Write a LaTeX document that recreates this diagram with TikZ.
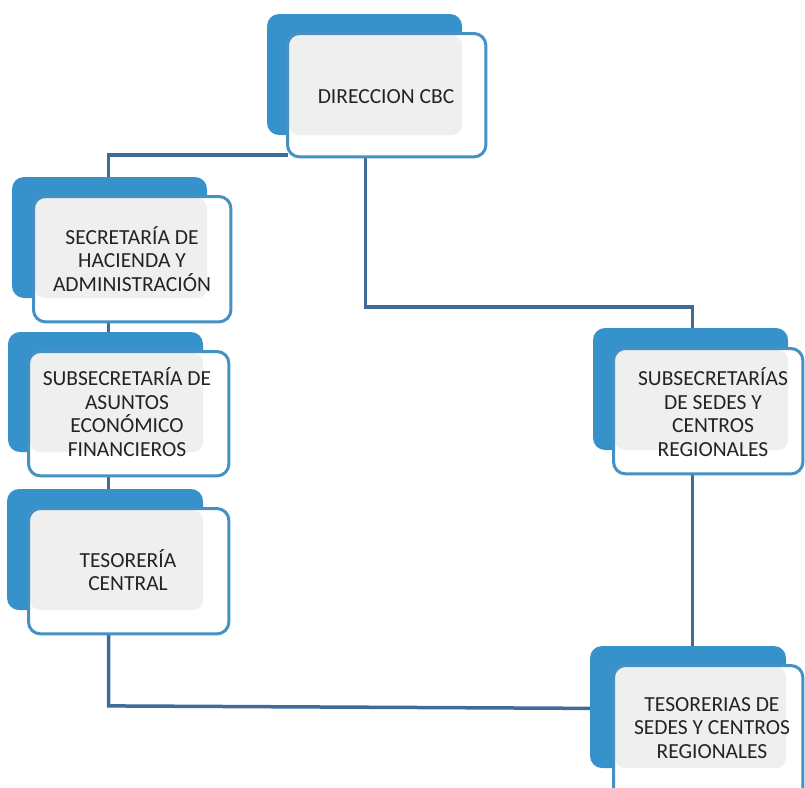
\documentclass[tikz,border=0pt]{standalone}
\usepackage{fontspec}
\setmainfont{Carlito}
\usetikzlibrary{backgrounds}
\definecolor{boxblue}{RGB}{55,145,203}
\definecolor{edgeblue}{RGB}{70,145,195}
\definecolor{linkblue}{RGB}{62,108,150}
\definecolor{panelgray}{RGB}{239,239,239}
\definecolor{inktext}{RGB}{35,35,35}
\newcommand\orgunit[9]{%
  \fill[backbox] (#2,#3) rectangle (#4,#5);
  \node[frontbox, minimum width={#8-#6-3}, minimum height={#9-#7-3}] (#1) at ({#6+1.5},{#7+1.5}) {};
  \fill[panel] ({#6+3},{#7+3}) rectangle (#4,#5);
  \draw[frontedge] (#1.south west) rectangle (#1.north east);
}
\begin{document}
\begin{tikzpicture}[x=1pt,y=-1pt,
  backbox/.style={fill=boxblue, rounded corners=12pt},
  frontbox/.style={fill=white, rounded corners=12pt, inner sep=0pt, anchor=north west, rectangle},
  frontedge/.style={draw=edgeblue, line width=3pt, rounded corners=12pt},
  panel/.style={fill=panelgray, rounded corners=10pt},
  label/.style={text=inktext, font=\fontsize{21.5}{23.5}\selectfont, align=center, inner sep=0pt},
  conn/.style={draw=linkblue, line width=3.5pt}]
\clip (0,0) rectangle (805,787);

\orgunit{dir}{267}{14}{462}{135}{286}{32}{487}{158}
\orgunit{sec}{12}{177}{207}{298}{32}{195}{232}{323}
\orgunit{sub}{8}{332}{203}{452}{27}{350}{230}{477}
\orgunit{tes}{7}{489}{203}{610}{27}{507}{230}{635}
\orgunit{subs}{593}{328}{788}{450}{612}{347}{804}{475}
\orgunit{tesr}{590}{646}{786}{768}{612}{664}{804}{800}

\node[label] (tdir) at (386,97) {DIRECCION CBC};
\node[label] (tsec) at (132,259) {SECRETARÍA DE\\HACIENDA Y\\ADMINISTRACIÓN};
\node[label] (tsub) at (127,412) {SUBSECRETARÍA DE\\ASUNTOS\\ECONÓMICO\\FINANCIEROS};
\node[label] (ttes) at (128,570) {TESORERÍA\\CENTRAL};
\node[label] (tsubs) at (713,412) {SUBSECRETARÍAS\\DE SEDES Y\\CENTROS\\REGIONALES};
\node[label] (ttesr) at (712,728) {TESORERIAS DE\\SEDES Y CENTROS\\REGIONALES};

\begin{pgfonlayer}{background}
  \draw[conn] ([yshift=2pt]dir.south west) -| ([xshift=75pt]sec.north west);
  \draw[conn] ([xshift=75pt]sec.south west) -- ([xshift=80pt]sub.north west);
  \draw[conn] ([xshift=80pt]sub.south west) -- ([xshift=80pt]tes.north west);
  \draw[conn] ([xshift=78pt]dir.south west) -- ++(0,150) -| ([xshift=79pt]subs.north west);
  \draw[conn] ([xshift=79pt]subs.south west) -- ([xshift=79pt]tesr.north west);
  \draw[conn] ([xshift=80pt]tes.south west) -- ++(0,72) -- ([yshift=-43pt]tesr.north west);
\end{pgfonlayer}
\end{tikzpicture}
\end{document}
